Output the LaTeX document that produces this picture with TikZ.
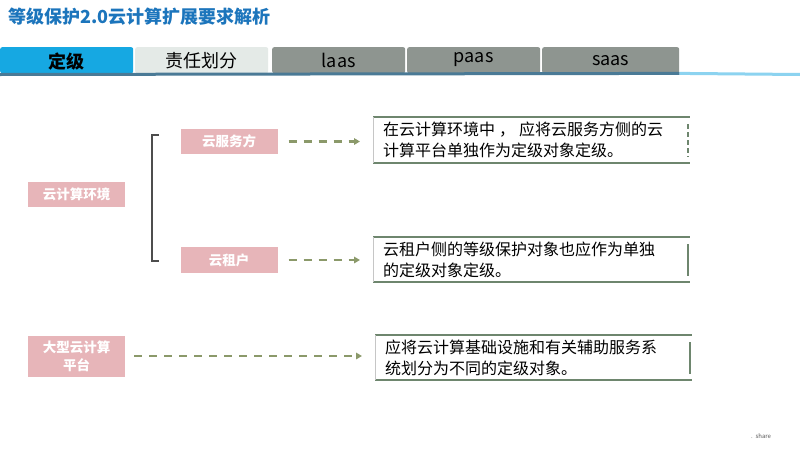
\documentclass[tikz,border=0pt]{standalone}
\usepackage{fontspec}
\setmainfont{Noto Sans CJK SC}
\usetikzlibrary{arrows.meta}

\definecolor{titelblau}{RGB}{28,117,188}
\definecolor{reiterblau}{RGB}{22,168,226}
\definecolor{reiterhell}{RGB}{228,234,231}
\definecolor{reitergrau}{RGB}{142,149,144}
\definecolor{linieblau}{RGB}{140,211,240}
\definecolor{liniedunkel}{RGB}{74,122,150}
\definecolor{rosa}{RGB}{231,181,185}
\definecolor{oliv}{RGB}{139,153,106}
\definecolor{rahmen}{RGB}{110,134,110}
\definecolor{klammer}{RGB}{77,77,77}

\begin{document}
\begin{tikzpicture}[x=1pt,y=-1pt,
    reiter/.style={anchor=north west, minimum width=133pt, minimum height=26pt, inner sep=0pt, rounded corners=2pt, font=\fontsize{18}{20}\selectfont},
    rosabox/.style={fill=rosa, text=white, font=\bfseries\fontsize{13.5}{16}\selectfont, inner sep=0pt, minimum width=97pt, align=center},
    pfeil/.style={draw=oliv, line width=2.5pt, dash pattern=on 8pt off 7pt, -{Triangle[length=6pt,width=6.5pt]}},
    kasten/.style={anchor=north west, minimum width=317pt, inner sep=0pt, inner xsep=10pt, text width=297pt, align=left, font=\fontsize{16}{21}\selectfont},
    rand/.style={draw=rahmen, line width=2pt}]
    \useasboundingbox[fill=white] (0,0) rectangle (800,450);
    % Titel:
    \node[anchor=west, text=titelblau, font=\bfseries\fontsize{18}{20}\selectfont, inner sep=0pt] (titel) at (8,17) {等级保护2.0云计算扩展要求解析};
    % Reiterleiste:
    \node[reiter, fill=reiterblau, font=\bfseries\fontsize{18}{20}\selectfont, text depth=-1pt] (dingji) at (0,47) {定级};
    \node[reiter, fill=reiterhell, text depth=-1pt] (zeren) at (135,47) {责任划分};
    \node[reiter, fill=reitergrau] (iaas) at (272,47) {laas};
    \node[reiter, fill=reitergrau, text depth=6pt] (paas) at (407,47) {paas};
    \node[reiter, fill=reitergrau, minimum width=137pt] (saas) at (542,47) {saas};
    \draw[linieblau, line width=3pt] (saas.south east) -- (800,74.5); % helle Linie
    \draw[liniedunkel, line width=3pt] (0,74.5) -- (saas.south east); % dunkle Linie
    % linke Seite:
    \node[rosabox, minimum height=25pt] (umgebung) at (76.5,194.5) {云计算环境};
    \node[rosabox, minimum height=41pt, align=center, font=\bfseries\fontsize{13.5}{18}\selectfont] (plattform) at (76.5,356) {大型云计算\\平台};
    % Klammer:
    \draw[klammer, line width=2pt] (159,135) -- (152,135) -- (152,261) -- (159,261);
    \node[rosabox, minimum height=25pt] (anbieter) at (229,141.5) {云服务方};
    \node[rosabox, minimum height=26pt] (mieter) at (229,260) {云租户};
    % rechte Kaesten:
    \node[kasten, minimum height=46pt] (text1) at (373,117) {在云计算环境中\hspace{4pt}，\hspace{4pt}应将云服务方侧的云\\计算平台单独作为定级对象定级。};
    \node[kasten, minimum height=45pt] (text2) at (373,237) {云租户侧的等级保护对象也应作为单独\\的定级对象定级。};
    \node[kasten, minimum height=45pt, minimum width=315pt] (text3) at (375,335) {应将云计算基础设施和有关辅助服务系\\统划分为不同的定级对象。};
    \foreach \k in {text1,text2,text3}{
        \draw[rand] (\k.north west) -- (\k.north east); % oben
        \draw[rand] (\k.south west) -- (\k.south east); % unten
        \draw[gray!45, line width=0.6pt] (\k.north west) -- (\k.south west); % links
    }
    \draw[rand, dash pattern=on 5pt off 3pt] ([shift={(-2,7)}]text1.north east) -- ([shift={(-2,-6)}]text1.south east);
    \draw[rand] ([shift={(-2,7)}]text2.north east) -- ([shift={(-2,-6)}]text2.south east);
    \draw[rand] ([shift={(-2,7)}]text3.north east) -- ([shift={(-2,-6)}]text3.south east);
    % Pfeile:
    \draw[pfeil, shorten <=11pt, shorten >=13pt] (anbieter.east) -- (anbieter.east -| text1.west);
    \draw[pfeil, shorten <=11pt, shorten >=13pt] (mieter.east) -- (mieter.east -| text2.west);
    \draw[pfeil, shorten <=9pt, shorten >=13pt] (plattform.east) -- (plattform.east -| text3.west);
    % Fusszeile:
    \node[anchor=west, text=gray!70!black, font=\fontsize{6}{7}\selectfont, inner sep=0pt] (fuss) at (751,436) {.\ \ share};
\end{tikzpicture}
\end{document}
